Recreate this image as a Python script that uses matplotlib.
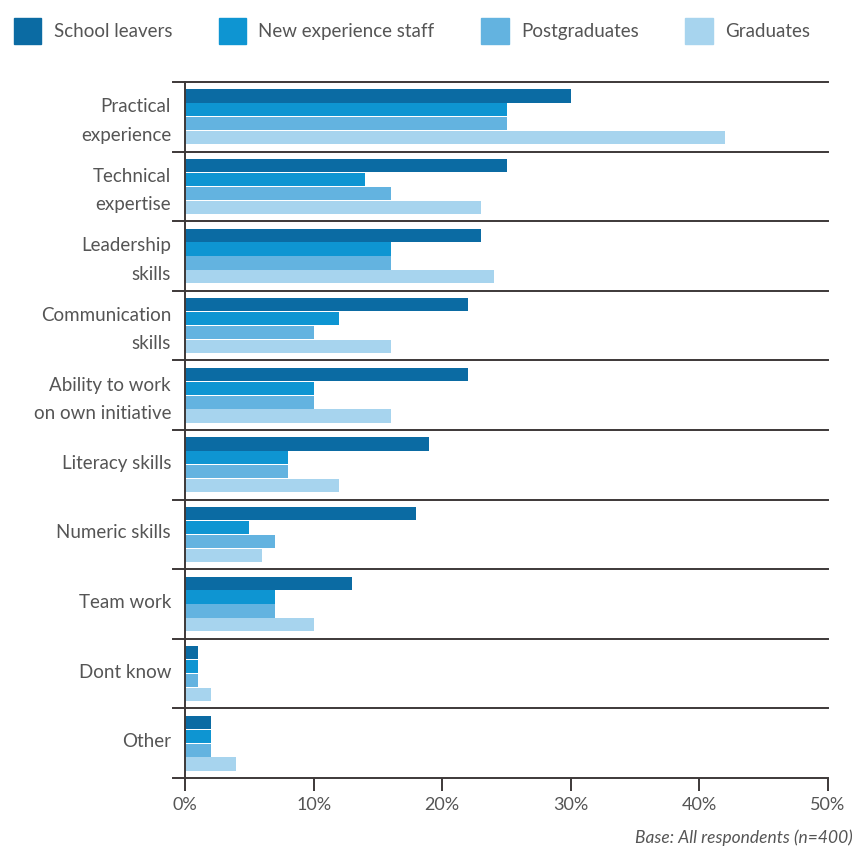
import numpy as np
import matplotlib.pyplot as plt
import matplotlib.transforms as mtransforms
from matplotlib.patches import Patch

plt.rcParams['font.family'] = ['Lato', 'DejaVu Sans']

# data (%)
categories = ['Practical\nexperience', 'Technical\nexpertise', 'Leadership\nskills',
              'Communication\nskills', 'Ability to work\non own initiative',
              'Literacy skills', 'Numeric skills', 'Team work', 'Dont know', 'Other']
series = ['School leavers', 'New experience staff', 'Postgraduates', 'Graduates']
school_leavers = [30, 25, 23, 22, 22, 19, 18, 13, 1, 2]
new_experience = [25, 14, 16, 12, 10, 8, 5, 7, 1, 2]
postgraduates = [25, 16, 16, 10, 10, 8, 7, 7, 1, 2]
graduates = [42, 23, 24, 16, 16, 12, 6, 10, 2, 4]
x_ticks = [0, 10, 20, 30, 40, 50]

colors = ['#0b6ba3', '#0e95d2', '#63b3e0', '#a7d4ee']
line_col = '#3d3838'
text_col = '#555555'

fig = plt.figure(figsize=(8.55, 8.48), dpi=100)
ax = fig.add_axes([185/855, 1-778/848, 643/855, 696/848])

y = np.arange(len(categories))
values = [school_leavers, new_experience, postgraduates, graduates]
offsets = [-0.3, -0.1, 0.1, 0.3]
for vals, off, c in zip(values, offsets, colors):
    ax.barh(y + off, vals, height=0.19, color=c, edgecolor='none')

ax.set_xlim(0, 50)
ax.set_ylim(len(categories) - 0.5, -0.5)

# separators between groups (running a bit left of the axis)
for b in np.arange(-0.5, len(categories) + 0.5, 1):
    ax.axhline(b, xmin=-0.019, xmax=1, color=line_col, lw=1.4, clip_on=False, zorder=3)

for s in ['top', 'right', 'bottom']:
    ax.spines[s].set_visible(False)
ax.spines['left'].set_color(line_col)
ax.spines['left'].set_linewidth(1.4)
ax.spines['left'].set_zorder(4)

ax.set_yticks(y)
ax.set_yticklabels(categories, fontsize=13.5, color=text_col, linespacing=1.8)
ax.tick_params(axis='y', length=0, pad=10)
# labels sit a little above the group centre
shift = mtransforms.ScaledTranslation(0, 3/100, fig.dpi_scale_trans)
for lab in ax.get_yticklabels():
    lab.set_transform(lab.get_transform() + shift)

ax.set_xticks(x_ticks)
ax.set_xticklabels([f'{t}%' for t in x_ticks], fontsize=13, color=text_col)
ax.tick_params(axis='x', direction='out', length=9, width=1.4, color=line_col, pad=5)

handles = [Patch(color=c, label=s) for c, s in zip(colors, series)]
leg = fig.legend(handles=handles, loc='upper left', bbox_to_anchor=(-0.003, 0.999), ncol=4,
                 frameon=False, fontsize=13.5, handlelength=1.45, handleheight=1.75,
                 handletextpad=0.65, columnspacing=2.5)
for t in leg.get_texts():
    t.set_color(text_col)

fig.text(0.997, 0.002, 'Base: All respondents (n=400)', ha='right', va='bottom',
         fontsize=12.5, style='italic', color=text_col)

fig.savefig('out.png', dpi=100)
